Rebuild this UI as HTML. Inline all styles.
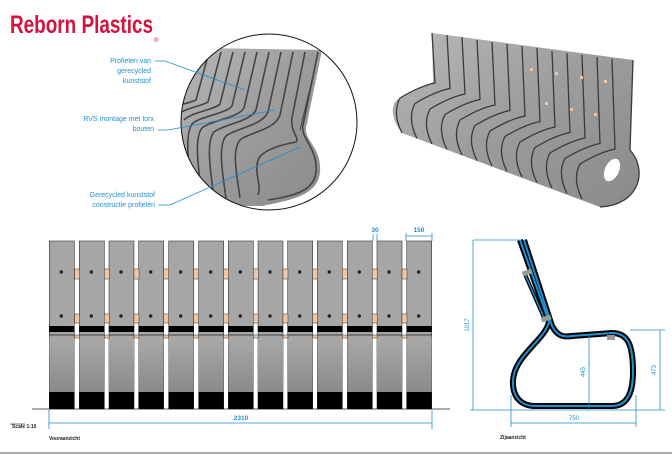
<!DOCTYPE html>
<html><head><meta charset="utf-8"><style>
html,body{margin:0;padding:0;background:#fff;}
svg{display:block;font-family:"Liberation Sans",sans-serif;}
</style></head><body>
<svg width="672" height="457" viewBox="0 0 672 457" xmlns="http://www.w3.org/2000/svg">
<defs>
<linearGradient id="lg" x1="0" y1="0" x2="0" y2="1">
<stop offset="0" stop-color="#a9a9a9"/><stop offset="1" stop-color="#8a8a8a"/></linearGradient>
<linearGradient id="bg3" x1="0" y1="0" x2="1" y2="1">
<stop offset="0" stop-color="#b8b8b8"/><stop offset="0.5" stop-color="#9c9c9c"/><stop offset="1" stop-color="#8a8a8a"/></linearGradient>
<clipPath id="cc"><circle cx="269" cy="122" r="88"/></clipPath>
<g id="slat">
<rect x="0" y="0" width="25" height="168" fill="#a6a6a6" stroke="#333" stroke-width="0.6"/>
<rect x="0" y="96" width="25" height="55" fill="url(#lg)"/>
<rect x="0" y="85" width="25" height="6" fill="#000"/>
<line x1="0" y1="94" x2="25" y2="94" stroke="#222" stroke-width="0.8"/>
<rect x="0" y="151" width="25" height="17" fill="#000"/>
<circle cx="12" cy="31" r="1.7" fill="#222"/>
<circle cx="12" cy="75" r="1.7" fill="#222"/>
</g>
<g id="con">
<rect x="0" y="28" width="5" height="10" fill="#f0c7a6" stroke="#333" stroke-width="0.5"/>
<rect x="0" y="73" width="5" height="9" fill="#f0c7a6" stroke="#333" stroke-width="0.5"/>
<rect x="0" y="94" width="5" height="3" fill="#f0c7a6" stroke="#333" stroke-width="0.5"/>
</g>
</defs>

<!-- Logo -->
<text x="10" y="33" font-size="25" font-weight="bold" fill="#d4123e" textLength="143" lengthAdjust="spacingAndGlyphs">Reborn Plastics</text>
<text x="154" y="42" font-size="6" fill="#d4123e">®</text>

<!-- Detail circle -->
<g clip-path="url(#cc)">
<path d="M205,48 L322,50 L306,128 C304,140 322,148 320,172 C318,195 292,200 262,206 L176,206 L176,55 Z" fill="url(#bg3)"/>
<g fill="none" stroke="#444" stroke-width="1.6">
<path d="M318,52 L303,125 C300,138 318,148 316,172 C314,192 292,196 268,200"/>
<path d="M305,52 L292,118 C290,132 300,138 296,142 C280,145 262,150 258,160 C254,175 262,185 258,195"/>
<path d="M293,52 L280,115 C275,130 250,132 240,140 C232,150 236,170 240,198"/>
<path d="M281,52 L268,112 C262,126 236,128 226,136 C218,146 222,170 226,198"/>
<path d="M269,52 L256,110 C250,122 224,124 214,132 C206,142 210,168 214,198"/>
<path d="M257,52 L244,108 C238,118 212,120 202,128 C194,138 198,165 202,198"/>
<path d="M245,52 L232,106 C226,114 200,116 192,124 C185,134 188,160 192,198"/>
<path d="M233,52 L220,104 C214,110 192,112 184,120"/>
<path d="M221,52 L208,102 C202,106 186,108 178,114"/>
<path d="M209,52 L196,100 C190,103 182,104 176,106"/>
<path d="M312,80 L300,130" stroke-width="1"/>
</g>
</g>
<circle cx="269" cy="122" r="88" fill="none" stroke="#111" stroke-width="1"/>

<!-- Callouts -->
<g font-size="7" fill="#1f8fd0" text-anchor="end">
<text x="151" y="63">Profielen van</text>
<text x="151" y="73">gerecycled</text>
<text x="151" y="83">kunststof</text>
<text x="154" y="121">RVS montage met torx</text>
<text x="154" y="131">bouten</text>
<text x="155" y="197">Gerecycled kunststof</text>
<text x="155" y="207">constructie profielen</text>
</g>
<g stroke="#1f8fd0" stroke-width="0.8" fill="none">
<path d="M155,61 L165,61 L245,90"/>
<path d="M158,130 L168,130 L275,110"/>
<path d="M158,205 L170,205 L300,147"/>
</g>

<!-- 3D bench -->
<path d="M432,33 L633,60 L630,150 C648,170 640,205 600,207 L402,133 C390,118 390,102 400,98 L433,82 Z" fill="url(#bg3)"/>
<g fill="none" stroke="#3a3a3a" stroke-width="1.3">
<path d="M432,33 L435,83 Q420,86 400,98 Q392,113 402,133"/>
<path d="M447,35 L450,88.5 Q435,91.5 415,103.5 Q407,118.5 417,138.5"/>
<path d="M462,37 L465,94 Q450,97 430,109 Q422,124 432,144"/>
<path d="M477,40 L480,99.5 Q465,102.5 445,114.5 Q437,129.5 447,149.5"/>
<path d="M492,42 L495,105 Q480,108 460,120 Q452,135 462,155"/>
<path d="M507,44 L510,110.5 Q495,113.5 475,125.5 Q467,140.5 477,160.5"/>
<path d="M522,46 L525,116 Q510,119 490,131 Q482,146 492,166"/>
<path d="M537,48 L540,121.5 Q525,124.5 505,136.5 Q497,151.5 507,171.5"/>
<path d="M552,51 L555,127 Q540,130 520,142 Q512,157 522,177"/>
<path d="M567,53 L570,132.5 Q555,135.5 535,147.5 Q527,162.5 537,182.5"/>
<path d="M582,55 L585,138 Q570,141 550,153 Q542,168 552,188"/>
<path d="M597,57 L600,143.5 Q585,146.5 565,158.5 Q557,173.5 567,193.5"/>
<path d="M612,59 L615,149 Q600,152 580,164 Q572,179 582,199"/>
<path d="M633,60 L630,150 C648,170 640,205 600,207"/>
</g>
<ellipse cx="612" cy="170" rx="7" ry="12" fill="#fff" transform="rotate(25 612 170)"/>
<g fill="#f0c7a6"><rect x="530" y="68" width="3" height="3"/><rect x="555" y="72" width="3" height="3"/><rect x="580" y="76" width="3" height="3"/><rect x="604" y="80" width="3" height="3"/><rect x="545" y="102" width="3" height="3"/><rect x="570" y="108" width="3" height="3"/><rect x="594" y="113" width="3" height="3"/></g>

<!-- Front view -->
<line x1="32" y1="409" x2="450" y2="409" stroke="#222" stroke-width="0.8"/>
<use href="#slat" x="49.3" y="241"/><use href="#slat" x="79.3" y="241"/><use href="#slat" x="109" y="241"/><use href="#slat" x="138.7" y="241"/><use href="#slat" x="168.7" y="241"/><use href="#slat" x="198.7" y="241"/><use href="#slat" x="228.3" y="241"/><use href="#slat" x="258" y="241"/><use href="#slat" x="287.7" y="241"/><use href="#slat" x="317.3" y="241"/><use href="#slat" x="347.3" y="241"/><use href="#slat" x="377" y="241"/><use href="#slat" x="406.7" y="241"/>
<use href="#con" x="74.5" y="241"/><use href="#con" x="104.3" y="241"/><use href="#con" x="134" y="241"/><use href="#con" x="163.7" y="241"/><use href="#con" x="193.7" y="241"/><use href="#con" x="223.6" y="241"/><use href="#con" x="253.3" y="241"/><use href="#con" x="283" y="241"/><use href="#con" x="312.6" y="241"/><use href="#con" x="342.3" y="241"/><use href="#con" x="372.2" y="241"/><use href="#con" x="402" y="241"/>
<g stroke="#1f8fd0" stroke-width="0.8" fill="#1f8fd0">
<line x1="49" y1="410" x2="49" y2="429"/><line x1="432" y1="410" x2="432" y2="429"/>
<line x1="49" y1="423" x2="432" y2="423"/>
<line x1="406" y1="233" x2="406" y2="241"/><line x1="432" y1="233" x2="432" y2="241"/><line x1="406" y1="236" x2="432" y2="236"/>
<line x1="373" y1="234" x2="373" y2="241"/><line x1="377" y1="234" x2="377" y2="241"/>
</g>
<g font-size="6.5" fill="#1f8fd0" text-anchor="middle" font-weight="bold"><text x="241" y="420">2310</text><text x="419" y="232">150</text><text x="375" y="232">30</text></g>
<line x1="10" y1="424" x2="25" y2="424" stroke="#222" stroke-width="0.6"/>
<text x="12" y="428" font-size="5" fill="#222" font-weight="bold">Scale 1:10</text>
<text x="49" y="440" font-size="5" fill="#222" font-weight="bold">Vooraanzicht</text>

<!-- Side view -->
<g fill="none" stroke-linejoin="round">
<path d="M520,240 L549,322 C545,340 515,355 513,380 C512,398 522,406 535,406 L612,406 C626,406 633,395 633,372 C633,345 628,333 612,333 L572,336 C560,338 556,333 552,326 L524,240" stroke="#000" stroke-width="6"/>
<path d="M520,240 L549,322 C545,340 515,355 513,380 C512,398 522,406 535,406 L612,406 C626,406 633,395 633,372 C633,345 628,333 612,333 L572,336 C560,338 556,333 552,326 L524,240" stroke="#1f8fd0" stroke-width="2"/>
<path d="M524,272 L545,320" stroke="#000" stroke-width="4"/><path d="M524,272 L545,320" stroke="#1f8fd0" stroke-width="1.5"/>
</g>
<rect x="522" y="270" width="10" height="5" fill="#999" transform="rotate(-20 527 272)"/>
<rect x="541" y="316" width="10" height="5" fill="#999" transform="rotate(-20 546 318)"/>
<rect x="607" y="335" width="8" height="5" fill="#999"/>
<g stroke="#1f8fd0" stroke-width="0.8">
<line x1="473" y1="240" x2="520" y2="240"/><line x1="473" y1="240" x2="473" y2="410"/>
<line x1="470" y1="410" x2="665" y2="410"/>
<line x1="589" y1="335" x2="589" y2="410"/>
<line x1="630" y1="330" x2="665" y2="330"/><line x1="660" y1="330" x2="660" y2="410"/>
<line x1="511" y1="395" x2="511" y2="427"/><line x1="636" y1="395" x2="636" y2="427"/><line x1="511" y1="423" x2="636" y2="423"/>
</g>
<g font-size="6" fill="#1f8fd0" text-anchor="middle">
<text transform="translate(469 325) rotate(-90)">1017</text>
<text transform="translate(585 372) rotate(-90)">445</text>
<text transform="translate(656 370) rotate(-90)">473</text>
<text x="574" y="420">750</text>
</g>
<text x="500" y="439" font-size="5" fill="#222" font-weight="bold">Zijaanzicht</text>

<line x1="0" y1="453" x2="672" y2="453" stroke="#555" stroke-width="1"/>
</svg>
</body></html>
